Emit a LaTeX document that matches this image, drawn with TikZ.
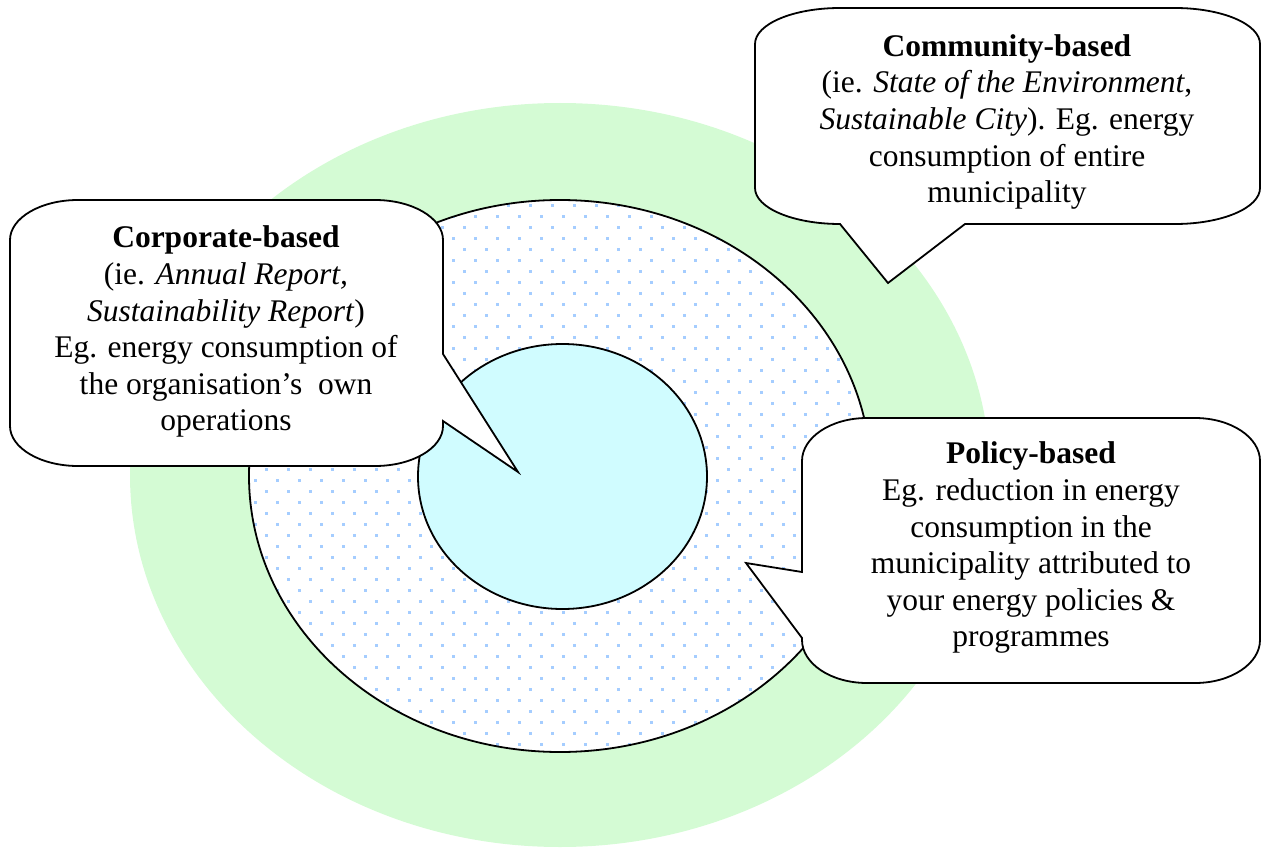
\documentclass[tikz,border=0pt]{standalone}
\usepackage{fontspec}
\setmainfont{Liberation Serif}
\definecolor{ringgreen}{RGB}{212,251,212}
\definecolor{corecyan}{RGB}{208,252,255}
\definecolor{dotblue}{RGB}{165,205,255}
\begin{document}
\begin{tikzpicture}[x=1pt,y=-1pt,
  outline/.style={draw=black,line width=1.8pt,line join=miter},
  bubble/.style={outline,fill=white},
  bubbletext/.style={align=center,inner sep=0pt,anchor=north,
    font=\fontsize{31.5}{36.6}\selectfont}]
\useasboundingbox (0,0) rectangle (1266,848);

% outer ring: community
\fill[ringgreen] (560,475) ellipse [x radius=430, y radius=372];

% middle ring: corporate, dotted
\begin{scope}
  \clip (560,476) ellipse [x radius=311, y radius=276];
  \fill[white] (240,190) rectangle (880,760);
  \foreach \j in {0,...,50}{
    \pgfmathsetmacro\yy{205.3+11*\j}
    \pgfmathsetmacro\xs{244.3+11*mod(\j,2)}
    \foreach \i in {0,...,29}{
      \fill[dotblue] (\xs+22*\i-1.5,\yy-1.5) rectangle ++(3,3);
    }
  }
\end{scope}
\draw[outline] (560,476) ellipse [x radius=311, y radius=276];

% core: own operations
\draw[outline,fill=corecyan] (562.5,476.5) ellipse [x radius=144.5, y radius=132.5];

% callout: community
\draw[bubble] (840,8) -- (1175,8)
  .. controls (1222,8) and (1260,24.1) .. (1260,44) -- (1260,188)
  .. controls (1260,207.9) and (1222,224) .. (1175,224) -- (965,224)
  -- (888,283) -- (840,224)
  .. controls (793,224) and (755,207.9) .. (755,188) -- (755,44)
  .. controls (755,24.1) and (793,8) .. (840,8) -- cycle;

% callout: corporate
\draw[bubble] (78,200) -- (375,200)
  .. controls (412.5,200) and (443,218) .. (443,240) -- (443,354)
  -- (518,472) -- (443,421) -- (443,426)
  .. controls (443,448) and (412.5,466) .. (375,466) -- (78,466)
  .. controls (40.5,466) and (10,448) .. (10,426) -- (10,240)
  .. controls (10,218) and (40.5,200) .. (78,200) -- cycle;

% callout: policy
\draw[bubble] (867,418) -- (1195,418)
  .. controls (1230.9,418) and (1260,437.3) .. (1260,461) -- (1260,640)
  .. controls (1260,663.7) and (1230.9,683) .. (1195,683) -- (867,683)
  .. controls (831.1,683) and (802,663.7) .. (802,640) -- (802,638)
  -- (746,563) -- (802,572) -- (802,461)
  .. controls (802,437.3) and (831.1,418) .. (867,418) -- cycle;

% texts
\node[bubbletext] (community) at (1007,30.5) {\strut\textbf{Community-based}\\
  (ie. \textit{State of the Environment},\\
  \textit{Sustainable City}). Eg. energy\\
  consumption of entire\\
  municipality};
\node[bubbletext] (corporate) at (226,222) {\strut\textbf{Corporate-based}\\
  (ie. \textit{Annual Report,}\\
  \textit{Sustainability Report})\\
  Eg. energy consumption of\\
  the organisation’s\ \ own\\
  operations};
\node[bubbletext] (policy) at (1031,438) {\strut\textbf{Policy-based}\\
  Eg. reduction in energy\\
  consumption in the\\
  municipality attributed to\\
  your energy policies \&\\
  programmes};
\end{tikzpicture}
\end{document}
